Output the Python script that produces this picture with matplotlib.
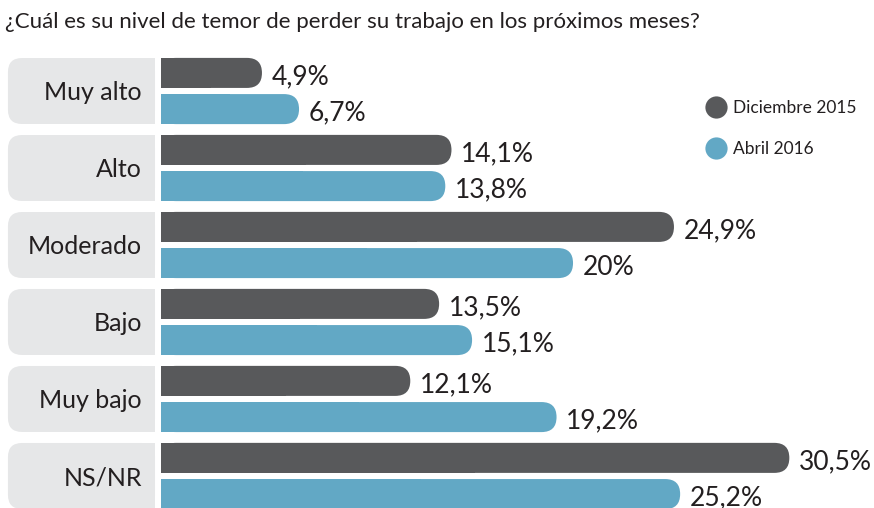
import matplotlib
matplotlib.use('Agg')
import matplotlib.pyplot as plt
from matplotlib.patches import FancyBboxPatch
from matplotlib.lines import Line2D
import numpy as np

# data
categories = ['Muy alto', 'Alto', 'Moderado', 'Bajo', 'Muy bajo', 'NS/NR']
dic_2015 = [4.9, 14.1, 24.9, 13.5, 12.1, 30.5]
abr_2016 = [6.7, 13.8, 20.0, 15.1, 19.2, 25.2]
dic_labels = ['4,9%', '14,1%', '24,9%', '13,5%', '12,1%', '30,5%']
abr_labels = ['6,7%', '13,8%', '20%', '15,1%', '19,2%', '25,2%']
series_names = ['Diciembre 2015', 'Abril 2016']

DARK = '#58595b'
BLUE = '#62a8c5'
BOX = '#e6e7e8'
TXT = '#231f20'

plt.rcParams['font.family'] = ['Lato', 'DejaVu Sans']

fig = plt.figure(figsize=(8.74, 5.08), dpi=100)
ax = fig.add_axes([0, 0, 1, 1])
ax.axis('off')
ax.set_xlim(-7.816, 34.61)
ax.set_ylim(5.416, -1.182)

# pixel scale of data units
px_x = ax.transData.transform((1, 0))[0] - ax.transData.transform((0, 0))[0]
px_y = abs(ax.transData.transform((0, 1))[1] - ax.transData.transform((0, 0))[1])
aspect = px_x / px_y

bar_h = 0.39
off = 0.235
r_bar = (bar_h / 2) * px_y / px_x


def round_bar(y, val, color):
    p = FancyBboxPatch((0, y - bar_h / 2), val, bar_h,
                       boxstyle=f"round,pad=0,rounding_size={r_bar}",
                       mutation_aspect=aspect, fc=color, ec='none')
    ax.add_patch(p)
    # square off the left end
    ax.barh(y, val / 2, height=bar_h, left=0, color=color, linewidth=0)


y = np.arange(len(categories))
box_l, box_r = -7.43, -0.29
box_h = 0.857
r_box = 14 / px_x
for i, cat in enumerate(categories):
    p = FancyBboxPatch((box_l, y[i] - box_h / 2), box_r - box_l, box_h,
                       boxstyle=f"round,pad=0,rounding_size={r_box}",
                       mutation_aspect=aspect, fc=BOX, ec='none')
    ax.add_patch(p)
    mid = (box_l + box_r) / 2
    ax.barh(y[i], box_r - mid, height=box_h, left=mid, color=BOX, linewidth=0)
    ax.text(-0.92, y[i] + 0.02, cat, ha='right', va='center',
            fontsize=18, color=TXT)

for i in range(len(categories)):
    round_bar(y[i] - off, dic_2015[i], DARK)
    round_bar(y[i] + off, abr_2016[i], BLUE)
    ax.annotate(dic_labels[i], (dic_2015[i], y[i] - off), xytext=(7, -3),
                textcoords='offset points', ha='left', va='center',
                fontsize=19, color=TXT)
    ax.annotate(abr_labels[i], (abr_2016[i], y[i] + off), xytext=(7, -3),
                textcoords='offset points', ha='left', va='center',
                fontsize=19, color=TXT)

fig.text(5 / 874, 1 - 22 / 508, '¿Cuál es su nivel de temor de perder su trabajo en los próximos meses?',
         ha='left', va='center', fontsize=16, color=TXT)

handles = [Line2D([], [], marker='o', linestyle='none', markersize=16,
                  markerfacecolor=c, markeredgecolor='none') for c in (DARK, BLUE)]
fig.legend(handles, series_names, loc='upper left',
           bbox_to_anchor=(695 / 874, 1 - 91 / 508), frameon=False,
           fontsize=12.5, handletextpad=0.3, labelspacing=1.45,
           borderpad=0, handlelength=1.4, labelcolor=TXT)

fig.savefig('out.png', dpi=100)
